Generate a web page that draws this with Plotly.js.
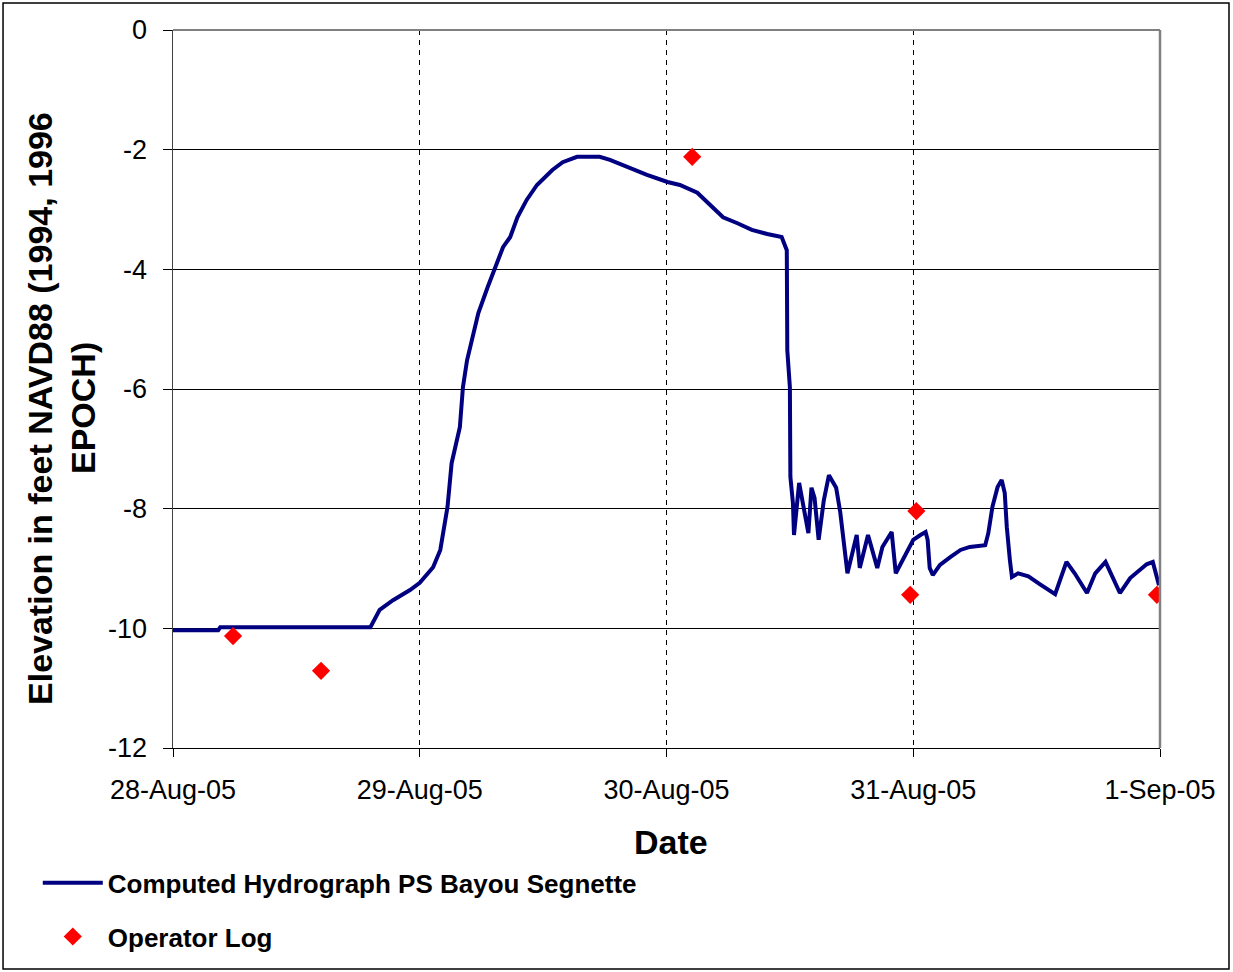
<!DOCTYPE html>
<html>
<head>
<meta charset="utf-8">
<script src="https://cdn.plot.ly/plotly-3.0.1.min.js"></script>
<style>
  body { margin: 0; background: #fff; }
  #myPlot { width: 1233px; height: 972px; }
</style>
</head>
<body>
<div id="myPlot"></div>
<script>
// hours after 28-Aug-05 00:00
var hydroHours = [0, 4.4, 4.6, 19.2, 20.1, 21.4, 23.05, 24.0, 25.3, 26.0, 26.7, 27.1, 27.9, 28.2, 28.6,
  29.7, 30.6, 31.5, 32.1, 32.8, 33.5, 34.4, 35.4, 36.9, 37.9, 39.3, 41.5, 42.5, 44.2, 46.1, 48.1,
  49.3, 51.0, 52.2, 53.5, 54.9, 56.3, 57.8, 59.2, 59.7, 59.75, 60.0, 60.05, 60.3, 60.4, 60.9, 61.3,
  61.8, 62.1, 62.4, 62.8, 63.3, 63.8, 64.5, 64.9, 65.6, 66.5, 66.8, 67.6, 68.5, 69.0, 69.9, 70.3,
  72.0, 72.7, 73.2, 73.4, 73.6, 73.9, 74.6, 75.6, 76.6, 77.5, 79.0, 79.3, 79.7, 80.2, 80.6, 80.9,
  81.1, 81.4, 81.6, 82.2, 83.2, 84.3, 85.0, 85.8, 86.9, 87.7, 88.9, 89.7, 90.7, 92.1, 93.1, 94.7,
  95.3, 95.9];
var hydroElev = [-10.03, -10.03, -9.98, -9.98, -9.69, -9.53, -9.36, -9.24, -8.98, -8.69, -7.97, -7.24, -6.64, -5.97, -5.52,
  -4.73, -4.30, -3.89, -3.63, -3.46, -3.13, -2.84, -2.59, -2.34, -2.21, -2.12, -2.12, -2.17, -2.29, -2.42, -2.54,
  -2.59, -2.72, -2.92, -3.13, -3.23, -3.34, -3.41, -3.46, -3.68, -5.35, -5.97, -7.47, -7.91, -8.44, -7.57, -7.97,
  -8.41, -7.65, -7.82, -8.52, -7.86, -7.44, -7.65, -8.06, -9.08, -8.44, -8.99, -8.44, -8.99, -8.64, -8.39, -9.08,
  -8.52, -8.44, -8.39, -8.52, -8.99, -9.11, -8.94, -8.81, -8.69, -8.64, -8.61, -8.41, -7.97, -7.64, -7.52, -7.74,
  -8.31, -8.86, -9.14, -9.08, -9.13, -9.26, -9.34, -9.43, -8.89, -9.08, -9.41, -9.08, -8.89, -9.41, -9.16, -8.93,
  -8.89, -9.28];

var logHours = [5.84, 14.4, 50.5, 71.7, 72.3, 95.7];
var logElev = [-10.13, -10.71, -2.12, -9.44, -8.04, -9.44];

var dayTicks = ['2005-08-28', '2005-08-29', '2005-08-30', '2005-08-31', '2005-09-01'];
var dayLabels = ['28-Aug-05', '29-Aug-05', '30-Aug-05', '31-Aug-05', '1-Sep-05'];
var elevTicks = [0, -2, -4, -6, -8, -10, -12];
var elevLabels = ['0', '-2', '-4', '-6', '-8', '-10', '-12'];

function toDate(h) {
  var d = new Date(Date.UTC(2005, 7, 28) + h * 3600000);
  return d.toISOString().slice(0, 19).replace('T', ' ');
}

var data = [{
  x: hydroHours.map(toDate),
  y: hydroElev,
  type: 'scatter',
  mode: 'lines',
  name: 'Computed Hydrograph PS Bayou Segnette',
  legendgroup: 'a',
  line: { color: '#000080', width: 4 }
}, {
  x: logHours.map(toDate),
  y: logElev,
  type: 'scatter',
  mode: 'markers',
  name: 'Operator Log',
  legendgroup: 'b',
  marker: { symbol: 'diamond', color: '#ff0000', size: 14 }
}];

var font = 'Liberation Sans, Arial, sans-serif';

var layout = {
  width: 1233,
  height: 972,
  margin: { l: 173, r: 73, t: 30, b: 224 },
  paper_bgcolor: '#fff',
  plot_bgcolor: '#fff',
  font: { family: font, color: '#000' },
  showlegend: true,
  legend: {
    x: -0.137, y: -0.155, xanchor: 'left', yanchor: 'top',
    orientation: 'v',
    traceorder: 'grouped',
    tracegroupgap: 17,
    itemwidth: 60,
    font: { family: font, size: 26, weight: 'bold', color: '#000' },
    bgcolor: 'rgba(0,0,0,0)'
  },
  xaxis: {
    type: 'date',
    range: ['2005-08-28', '2005-09-01'],
    tickvals: dayTicks,
    ticktext: dayLabels,
    tickfont: { size: 27 },
    ticks: 'outside',
    ticklen: 8,
    tickcolor: '#000',
    ticklabelstandoff: 10,
    showgrid: true,
    gridcolor: '#000',
    gridwidth: 1,
    griddash: '5px,5px',
    showline: true,
    linecolor: '#000',
    linewidth: 1,
    zeroline: false,
    fixedrange: true
  },
  yaxis: {
    range: [-12, 0],
    tickvals: elevTicks,
    ticktext: elevLabels,
    tickfont: { size: 27 },
    ticks: 'outside',
    ticklen: 9,
    tickcolor: '#000',
    ticklabelstandoff: 10,
    showgrid: true,
    gridcolor: '#000',
    gridwidth: 1,
    showline: true,
    linecolor: '#404040',
    linewidth: 1.5,
    zeroline: false,
    fixedrange: true
  },
  shapes: [
    { type: 'line', xref: 'paper', yref: 'paper', x0: 0, x1: 1, y0: 1, y1: 1, line: { color: '#808080', width: 2 } },
    { type: 'line', xref: 'paper', yref: 'paper', x0: 1, x1: 1, y0: 0, y1: 1, line: { color: '#808080', width: 2.5 } },
    { type: 'rect', xref: 'paper', yref: 'paper', x0: -0.1722, x1: 1.0699, y0: -0.3078, y1: 1.0376,
      line: { color: '#000', width: 1.5 } }
  ],
  annotations: [
    { text: 'Date', xref: 'paper', yref: 'paper', x: 0.5046, y: -0.131, xanchor: 'center', yanchor: 'middle',
      showarrow: false, font: { size: 34, weight: 'bold' } },
    { text: 'Elevation in feet NAVD88 (1994, 1996', xref: 'paper', yref: 'paper', x: -0.1348, y: 0.4735,
      xanchor: 'center', yanchor: 'middle', textangle: -90, showarrow: false, font: { size: 34, weight: 'bold' } },
    { text: 'EPOCH)', xref: 'paper', yref: 'paper', x: -0.0912, y: 0.4735,
      xanchor: 'center', yanchor: 'middle', textangle: -90, showarrow: false, font: { size: 34, weight: 'bold' } }
  ]
};

Plotly.newPlot('myPlot', data, layout, { displayModeBar: false, staticPlot: true });
</script>
</body>
</html>
